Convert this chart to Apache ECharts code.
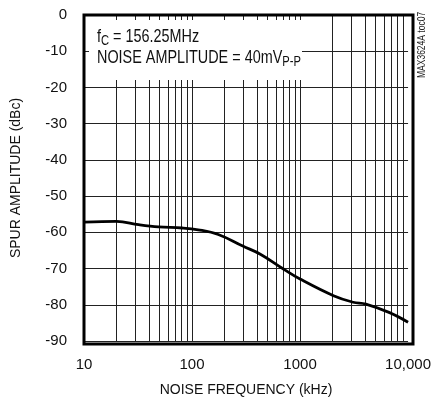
<!DOCTYPE html>
<html><head><meta charset="utf-8">
<script src="https://cdn.jsdelivr.net/npm/echarts@6/dist/echarts.min.js"></script>
<style>html,body{margin:0;padding:0;background:#fff}#c{width:434px;height:402px}</style>
</head><body><div id="c"></div>
<script>
var freqKHz = [10, 20, 32, 49, 81, 114, 175, 295, 433, 708, 1000, 2040, 3100, 4070, 6660, 10000];
var spurDBc = [-57.2, -57.0, -57.9, -58.5, -58.8, -59.3, -60.6, -63.8, -66.1, -70.2, -72.9, -77.5, -79.3, -79.8, -82.1, -84.8];
var xTickLabels = {10: '10', 100: '100', 1000: '1000', 10000: '10,000'};
var yTicks = [0, -10, -20, -30, -40, -50, -60, -70, -80, -90];
var FONT = "'Liberation Sans', Arial, sans-serif";

var vLines = [];
[10, 100, 1000].forEach(function (d) {
  for (var m = 2; m <= 9; m++) vLines.push({xAxis: m * d});
});
vLines.push({xAxis: 100}, {xAxis: 1000});

var chart = echarts.init(document.getElementById('c'));
chart.setOption({
  animation: false,
  grid: {left: 84, right: 21, top: 15, bottom: 58},
  xAxis: {
    type: 'log', logBase: 10, min: 10, max: 10000,
    name: 'NOISE FREQUENCY (kHz)', nameLocation: 'middle', nameGap: 42,
    nameTextStyle: {fontFamily: FONT, fontSize: 14, color: '#111'},
    axisLine: {show: false}, axisTick: {show: false},
    splitLine: {show: false},
    axisLabel: {fontFamily: FONT, fontSize: 15, color: '#111', margin: 16,
      formatter: function (v) { return xTickLabels[Math.round(v)] || ''; }}
  },
  yAxis: {
    type: 'value', min: -90, max: 0, interval: 10,
    name: 'SPUR AMPLITUDE (dBc)', nameLocation: 'middle', nameGap: 61,
    nameTextStyle: {fontFamily: FONT, fontSize: 14, color: '#111'},
    axisLine: {show: false}, axisTick: {show: false},
    splitLine: {show: true, lineStyle: {color: '#222', width: 1}},
    axisLabel: {fontFamily: FONT, fontSize: 15, color: '#111', margin: 17,
      formatter: function (v) { return yTicks.indexOf(v) >= 0 ? String(v) : ''; }}
  },
  series: [{
    type: 'line', smooth: 0.4, showSymbol: false,
    data: freqKHz.map(function (f, i) { return [f, spurDBc[i]]; }),
    lineStyle: {color: '#000', width: 2.8},
    z: 5,
    markLine: {
      silent: true, symbol: 'none', label: {show: false},
      lineStyle: {color: '#222', width: 1, type: 'solid'},
      data: vLines, z: 1
    }
  }],
  graphic: [
    {type: 'rect', shape: {x: 89, y: 20, width: 213, height: 60}, style: {fill: '#fff'}, z: 10},
    {type: 'rect', shape: {x: 84, y: 15, width: 329, height: 329}, style: {fill: 'none', stroke: '#000', lineWidth: 3}, z: 12},
    {type: 'text', x: 97, y: 27, scaleX: 0.8, z: 13, style: {
      text: '{a|f}{s|C}{a| = 156.25MHz}', fill: '#111',
      rich: {a: {fontFamily: FONT, fontSize: 18}, s: {fontFamily: FONT, fontSize: 14, verticalAlign: 'bottom', padding: [7, 0, 0, 0]}}
    }},
    {type: 'text', x: 97, y: 48, scaleX: 0.8, z: 13, style: {
      text: '{a|NOISE AMPLITUDE = 40mV}{s|P-P}', fill: '#111',
      rich: {a: {fontFamily: FONT, fontSize: 18}, s: {fontFamily: FONT, fontSize: 14, verticalAlign: 'bottom', padding: [7, 0, 0, 0]}}
    }},
    {type: 'text', x: 417, y: 78, rotation: Math.PI / 2, scaleX: 0.85, z: 13, style: {
      text: 'MAX3624A toc07', fill: '#222', fontFamily: FONT, fontSize: 10
    }}
  ]
});
</script></body></html>
